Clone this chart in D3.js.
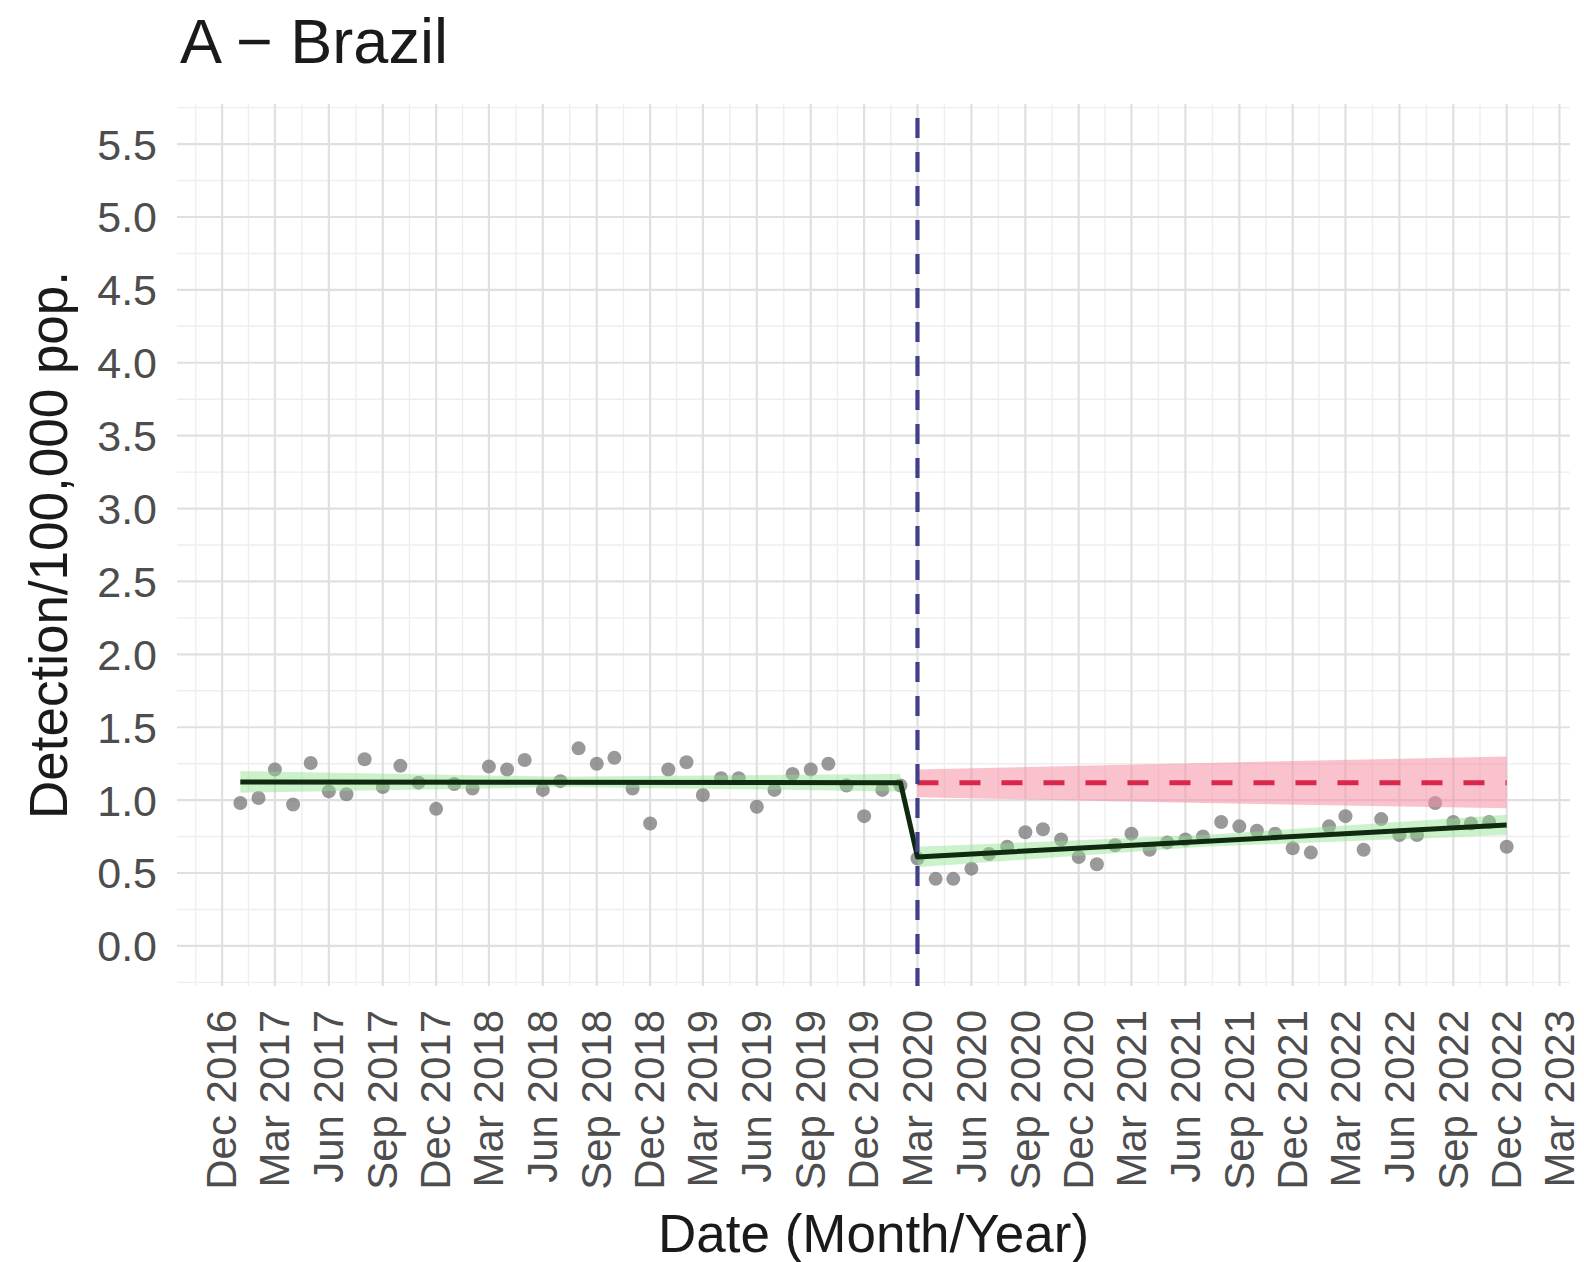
<!DOCTYPE html>
<html>
<head>
<meta charset="utf-8">
<script src="https://cdn.jsdelivr.net/npm/d3@7"></script>
<style>
  html, body { margin: 0; padding: 0; background: #ffffff; }
  svg { display: block; }
</style>
</head>
<body>
<svg id="chart" width="1584" height="1262"></svg>
<script>
// Monthly detection rate per 100,000 population, Brazil
const firstMonth = "2017-01";
const interventionMonth = "2020-03";

// Jan 2017 – Feb 2020
const preValues = [
  0.98, 1.015, 1.21, 0.97, 1.255, 1.06, 1.04, 1.28, 1.09, 1.235, 1.12, 0.94,
  1.11, 1.08, 1.23, 1.21, 1.275, 1.07, 1.13, 1.355, 1.25, 1.29, 1.08, 0.84,
  1.21, 1.26, 1.035, 1.15, 1.15, 0.955, 1.07, 1.18, 1.21, 1.25, 1.10, 0.89,
  1.07, 1.10
];
// Mar 2020 – Dec 2022
const postValues = [
  0.60, 0.46, 0.46, 0.53, 0.63, 0.68, 0.78, 0.80, 0.73, 0.61,
  0.56, 0.69, 0.77, 0.66, 0.71, 0.73, 0.75, 0.85, 0.82, 0.79, 0.77, 0.67,
  0.64, 0.82, 0.89, 0.66, 0.87, 0.76, 0.76, 0.98, 0.85, 0.84, 0.85, 0.68
];

// Segmented regression fit and its confidence band
const preFitMonths = ["2017-01", "2020-02"];
const preFit = [1.125, 1.12];
const preBandMonths = ["2017-01", "2018-07", "2020-02"];
const preLower = [1.05, 1.09, 1.06];
const preUpper = [1.20, 1.16, 1.18];

const postFitMonths = ["2020-03", "2022-12"];
const postFit = [0.61, 0.83];
const postBandMonths = ["2020-03", "2021-07", "2022-12"];
const postLower = [0.54, 0.68, 0.76];
const postUpper = [0.68, 0.76, 0.90];

// Counterfactual (pre-trend projected forward) and its band
const cfMonths = ["2020-03", "2022-12"];
const cfFit = [1.12, 1.12];
const cfBandMonths = ["2020-03", "2021-07", "2022-12"];
const cfLower = [1.02, 0.98, 0.945];
const cfUpper = [1.21, 1.255, 1.30];

const xTickLabels = [
  "Dec 2016", "Mar 2017", "Jun 2017", "Sep 2017", "Dec 2017", "Mar 2018",
  "Jun 2018", "Sep 2018", "Dec 2018", "Mar 2019", "Jun 2019", "Sep 2019",
  "Dec 2019", "Mar 2020", "Jun 2020", "Sep 2020", "Dec 2020", "Mar 2021",
  "Jun 2021", "Sep 2021", "Dec 2021", "Mar 2022", "Jun 2022", "Sep 2022",
  "Dec 2022", "Mar 2023"
];
const yTickLabels = ["0.0", "0.5", "1.0", "1.5", "2.0", "2.5", "3.0", "3.5", "4.0", "4.5", "5.0", "5.5"];

const titleText = "A \u2212 Brazil";
const xTitle = "Date (Month/Year)";
const yTitle = "Detection/100,000 pop.";

// ---------------------------------------------------------------
const FONT = "'Liberation Sans', Arial, Helvetica, sans-serif";
const parseMonth = d3.timeParse("%Y-%m");
const parseLabel = d3.timeParse("%b %Y");

const start = parseMonth(firstMonth);
const preData = preValues.map((v, i) => ({ date: d3.timeMonth.offset(start, i), value: v }));
const postStart = parseMonth(interventionMonth);
const postData = postValues.map((v, i) => ({ date: d3.timeMonth.offset(postStart, i), value: v }));
const allData = preData.concat(postData);

const panel = { left: 177, right: 1570, top: 104, bottom: 986 };

// ggplot-style 5% expansion on both axes
const dExt = d3.extent(allData, d => d.date);
const span = dExt[1] - dExt[0];
const x = d3.scaleTime()
  .domain([new Date(+dExt[0] - span * 0.05), new Date(+dExt[1] + span * 0.05)])
  .range([panel.left, panel.right]);

const yTickVals = yTickLabels.map(Number);
const yMin = d3.min(yTickVals), yMax = d3.max(yTickVals);
const yPad = (yMax - yMin) * 0.05;
const y = d3.scaleLinear()
  .domain([yMin - yPad, yMax + yPad])
  .range([panel.bottom, panel.top]);

const svg = d3.select("#chart");
svg.append("rect").attr("width", 1584).attr("height", 1262).attr("fill", "#ffffff");

// ---- grid ----
const grid = svg.append("g");
const xMajor = xTickLabels.map(s => parseLabel(s));
const xMinor = [];
const step = xMajor[1] - xMajor[0];
[new Date(+xMajor[0] - step)].concat(xMajor).forEach((d, i, arr) => {
  const next = i < arr.length - 1 ? arr[i + 1] : d3.timeMonth.offset(d, 3);
  xMinor.push(new Date((+d + +next) / 2));
});
const yMinor = [];
for (let i = -1; i < yTickVals.length; i++) {
  const a = i < 0 ? yTickVals[0] - 0.5 : yTickVals[i];
  yMinor.push(a + 0.25);
}

grid.selectAll(".xminor").data(xMinor.filter(d => x(d) >= panel.left && x(d) <= panel.right))
  .join("line")
  .attr("x1", d => x(d)).attr("x2", d => x(d))
  .attr("y1", panel.top).attr("y2", panel.bottom)
  .attr("stroke", "#eeeeee").attr("stroke-width", 1.4);
grid.selectAll(".yminor").data(yMinor.filter(v => y(v) >= panel.top && y(v) <= panel.bottom))
  .join("line")
  .attr("x1", panel.left).attr("x2", panel.right)
  .attr("y1", d => y(d)).attr("y2", d => y(d))
  .attr("stroke", "#eeeeee").attr("stroke-width", 1.4);
grid.selectAll(".xmajor").data(xMajor)
  .join("line")
  .attr("x1", d => x(d)).attr("x2", d => x(d))
  .attr("y1", panel.top).attr("y2", panel.bottom)
  .attr("stroke", "#e0e0e0").attr("stroke-width", 2.2);
grid.selectAll(".ymajor").data(yTickVals)
  .join("line")
  .attr("x1", panel.left).attr("x2", panel.right)
  .attr("y1", d => y(d)).attr("y2", d => y(d))
  .attr("stroke", "#e0e0e0").attr("stroke-width", 2.2);

// ---- observed points ----
svg.append("g").selectAll("circle").data(allData).join("circle")
  .attr("cx", d => x(d.date)).attr("cy", d => y(d.value))
  .attr("r", 7)
  .attr("fill", "#7c7c7c").attr("fill-opacity", 0.78);

// ---- confidence bands ----
function band(months, lo, hi) {
  return months.map((m, i) => ({ date: parseMonth(m), lo: lo[i], hi: hi[i] }));
}
const area = d3.area().x(d => x(d.date)).y0(d => y(d.lo)).y1(d => y(d.hi));
svg.append("path").datum(band(preBandMonths, preLower, preUpper))
  .attr("d", area).attr("fill", "#8fe38f").attr("fill-opacity", 0.45);
svg.append("path").datum(band(postBandMonths, postLower, postUpper))
  .attr("d", area).attr("fill", "#8fe38f").attr("fill-opacity", 0.45);
svg.append("path").datum(band(cfBandMonths, cfLower, cfUpper))
  .attr("d", area).attr("fill", "#f590a4").attr("fill-opacity", 0.55);

// ---- fitted segmented trend ----
const line = d3.line().x(d => x(d.date)).y(d => y(d.value));
const fitPts = preFitMonths.map((m, i) => ({ date: parseMonth(m), value: preFit[i] }))
  .concat(postFitMonths.map((m, i) => ({ date: parseMonth(m), value: postFit[i] })));
svg.append("path").datum(fitPts)
  .attr("d", line).attr("fill", "none")
  .attr("stroke", "#0f2a0f").attr("stroke-width", 5)
  .attr("stroke-linejoin", "round");

// ---- counterfactual ----
svg.append("path").datum(cfMonths.map((m, i) => ({ date: parseMonth(m), value: cfFit[i] })))
  .attr("d", line).attr("fill", "none")
  .attr("stroke", "#d8274a").attr("stroke-width", 5)
  .attr("stroke-dasharray", "21 21");

// ---- intervention marker ----
svg.append("line")
  .attr("x1", x(postStart)).attr("x2", x(postStart))
  .attr("y1", panel.top + 14).attr("y2", panel.bottom)
  .attr("stroke", "#40408a").attr("stroke-width", 4.2)
  .attr("stroke-dasharray", "20 14");

// ---- axes text ----
svg.append("g").selectAll("text").data(yTickLabels).join("text")
  .attr("x", 157).attr("y", d => y(+d))
  .attr("dy", "0.36em")
  .attr("text-anchor", "end")
  .attr("font-family", FONT).attr("font-size", 43)
  .attr("fill", "#4d4d4d")
  .text(d => d);

svg.append("g").selectAll("text").data(xTickLabels).join("text")
  .attr("transform", d => `translate(${x(parseLabel(d))},1010) rotate(-90)`)
  .attr("dy", "0.34em")
  .attr("text-anchor", "end")
  .attr("font-family", FONT).attr("font-size", 42)
  .attr("fill", "#4d4d4d")
  .text(d => d);

svg.append("text")
  .attr("x", (panel.left + panel.right) / 2).attr("y", 1252)
  .attr("text-anchor", "middle")
  .attr("font-family", FONT).attr("font-size", 53)
  .attr("fill", "#1a1a1a")
  .text(xTitle);

svg.append("text")
  .attr("transform", `translate(67,${(panel.top + panel.bottom) / 2}) rotate(-90)`)
  .attr("text-anchor", "middle")
  .attr("font-family", FONT).attr("font-size", 53)
  .attr("fill", "#1a1a1a")
  .text(yTitle);

svg.append("text")
  .attr("x", 180).attr("y", 63)
  .attr("font-family", FONT).attr("font-size", 63)
  .attr("fill", "#1a1a1a")
  .text(titleText);
</script>
</body>
</html>
